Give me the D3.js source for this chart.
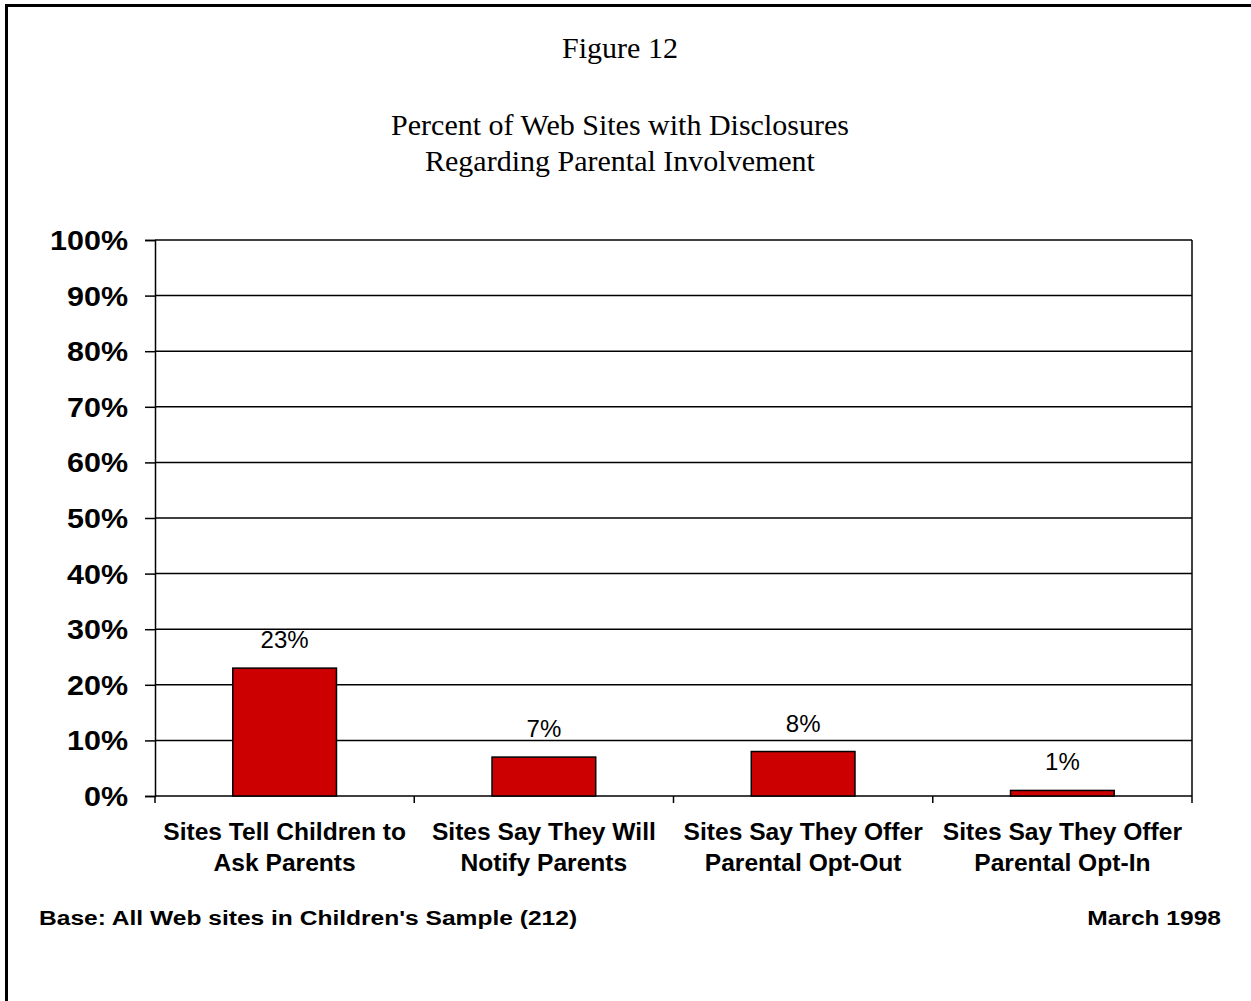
<!DOCTYPE html>
<html>
<head>
<meta charset="utf-8">
<script src="https://cdn.jsdelivr.net/npm/d3@7"></script>
<style>
  body { margin: 0; background: #fff; }
  svg { display: block; }
</style>
</head>
<body>
<svg id="graphique" width="1251" height="1001"></svg>
<script>
// donnees
var categories = [
  ["Sites Tell Children to", "Ask Parents"],
  ["Sites Say They Will", "Notify Parents"],
  ["Sites Say They Offer", "Parental Opt-Out"],
  ["Sites Say They Offer", "Parental Opt-In"]
];
var valeurs = [23, 7, 8, 1];
var graduations = [0, 10, 20, 30, 40, 50, 60, 70, 80, 90, 100];
var titres = ["Percent of Web Sites with Disclosures", "Regarding Parental Involvement"];
var numeroFigure = "Figure 12";
var noteBase = "Base: All Web sites in Children's Sample (212)";
var noteDate = "March 1998";

var WIDTH = 1251;
var HEIGHT = 1001;
var MARGINS = { top: 240, right: 59, bottom: 205, left: 155 };
var SANS = "'Liberation Sans', Arial, sans-serif";
var SERIF = "'Liberation Serif', 'Times New Roman', serif";

var graphique = d3.select("#graphique");

// cadre de la page (seuls les bords haut et gauche sont visibles)
graphique.append("rect")
  .attr("x", 6.5).attr("y", 5.5)
  .attr("width", 1400).attr("height", 1200)
  .attr("fill", "none")
  .attr("stroke", "#000")
  .attr("stroke-width", 3);

// texte etire horizontalement, comme dans l'original
function texteEtire(x, y, txt, taille, etirement, ancre){
  return graphique.append("text")
    .attr("transform", "translate(" + x + "," + y + ") scale(" + etirement + ",1)")
    .attr("text-anchor", ancre)
    .attr("font-family", SANS)
    .attr("font-weight", "bold")
    .attr("font-size", taille)
    .attr("fill", "#000")
    .text(txt);
}

// titres
var centreTitre = 620;
graphique.append("text")
  .attr("x", centreTitre).attr("y", 58)
  .attr("text-anchor", "middle")
  .attr("font-family", SERIF).attr("font-size", 30)
  .text(numeroFigure);

titres.forEach(function(t, i){
  graphique.append("text")
    .attr("x", centreTitre).attr("y", 135 + i * 36)
    .attr("text-anchor", "middle")
    .attr("font-family", SERIF).attr("font-size", 30)
    .text(t);
});

// echelles
var xScale = d3.scaleBand()
  .domain(d3.range(categories.length))
  .range([MARGINS.left, WIDTH - MARGINS.right])
  .paddingInner(0.6)
  .paddingOuter(0.3);

var yScale = d3.scaleLinear()
  .domain([0, 100])
  .range([HEIGHT - MARGINS.bottom, MARGINS.top]);

var x0 = MARGINS.left;
var x1 = WIDTH - MARGINS.right;

// lignes de dizaines
graphique.append("g").selectAll("line")
  .data(graduations)
  .join("line")
  .attr("x1", x0).attr("x2", x1)
  .attr("y1", function(d){ return yScale(d); })
  .attr("y2", function(d){ return yScale(d); })
  .attr("stroke", "#000")
  .attr("stroke-width", 1.5);

// bord droit de la zone de trace
graphique.append("line")
  .attr("x1", x1).attr("x2", x1)
  .attr("y1", yScale(100)).attr("y2", yScale(0))
  .attr("stroke", "#000").attr("stroke-width", 1.5);

// axe vertical
var yAxis = d3.axisLeft(yScale)
  .tickValues(graduations)
  .tickSize(10)
  .tickFormat("");
var gy = graphique.append("g")
  .attr("transform", "translate(" + x0 + ",0)")
  .call(yAxis);
gy.selectAll("path, line").attr("stroke", "#000").attr("stroke-width", 1.5);

graduations.forEach(function(d){
  texteEtire(128, yScale(d) + 10, d + "%", 27, 1.13, "end");
});

// axe horizontal : graduations entre les categories
var limites = d3.range(categories.length + 1).map(function(i){
  return x0 + i * xScale.step();
});
graphique.append("g").selectAll("line")
  .data(limites)
  .join("line")
  .attr("x1", function(d){ return d; })
  .attr("x2", function(d){ return d; })
  .attr("y1", yScale(0))
  .attr("y2", yScale(0) + 7)
  .attr("stroke", "#000").attr("stroke-width", 1.5);

// barres
graphique.append("g").selectAll("rect")
  .data(valeurs)
  .join("rect")
  .attr("x", function(d, i){ return xScale(i); })
  .attr("y", function(d){ return yScale(d); })
  .attr("width", xScale.bandwidth())
  .attr("height", function(d){ return yScale(0) - yScale(d); })
  .attr("fill", "#CC0000")
  .attr("stroke", "#000")
  .attr("stroke-width", 1.5);

// etiquettes de valeurs
graphique.append("g").selectAll("text")
  .data(valeurs)
  .join("text")
  .attr("x", function(d, i){ return xScale(i) + xScale.bandwidth() / 2; })
  .attr("y", function(d){ return yScale(d) - 20; })
  .attr("text-anchor", "middle")
  .attr("font-family", SANS)
  .attr("font-size", 24)
  .text(function(d){ return d + "%"; });

// libelles des categories
categories.forEach(function(lignes, i){
  var cx = xScale(i) + xScale.bandwidth() / 2;
  lignes.forEach(function(l, j){
    texteEtire(cx, 840 + j * 31, l, 23, 1.07, "middle");
  });
});

// notes de bas de page
texteEtire(39, 925, noteBase, 21, 1.17, "start");
texteEtire(1221, 925, noteDate, 21, 1.17, "end");
</script>
</body>
</html>
